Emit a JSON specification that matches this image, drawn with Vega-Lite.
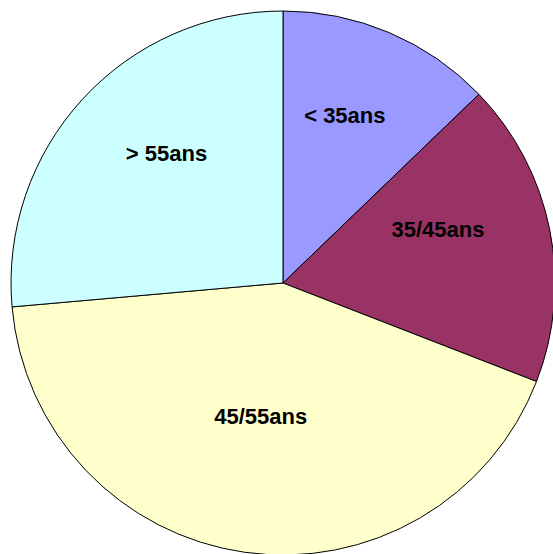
{
  "$schema": "https://vega.github.io/schema/vega-lite/v6.json",
  "width": 566,
  "height": 566,
  "autosize": {"type": "none"},
  "padding": 0,
  "background": "white",
  "config": {"view": {"stroke": null}},
  "data": {
    "values": [
      {"age": "< 35ans", "part": 12.8, "rang": 1},
      {"age": "35/45ans", "part": 18.1, "rang": 2},
      {"age": "45/55ans", "part": 42.7, "rang": 3},
      {"age": "> 55ans", "part": 26.4, "rang": 4}
    ]
  },
  "encoding": {
    "theta": {"field": "part", "type": "quantitative", "stack": true},
    "order": {"field": "rang", "type": "quantitative"}
  },
  "layer": [
    {
      "mark": {"type": "arc", "outerRadius": 272, "stroke": "black", "strokeWidth": 1},
      "encoding": {
        "color": {
          "field": "age",
          "type": "nominal",
          "scale": {
            "domain": ["< 35ans", "35/45ans", "45/55ans", "> 55ans"],
            "range": ["#9999FF", "#993366", "#FFFFCC", "#CCFFFF"]
          },
          "legend": null
        }
      }
    },
    {
      "mark": {"type": "text", "radius": 158, "dy": -22, "font": "Liberation Sans", "fontWeight": "bold", "fontSize": 22, "color": "black", "baseline": "middle", "align": "center"},
      "encoding": {
        "text": {"field": "age", "type": "nominal"}
      }
    }
  ]
}
